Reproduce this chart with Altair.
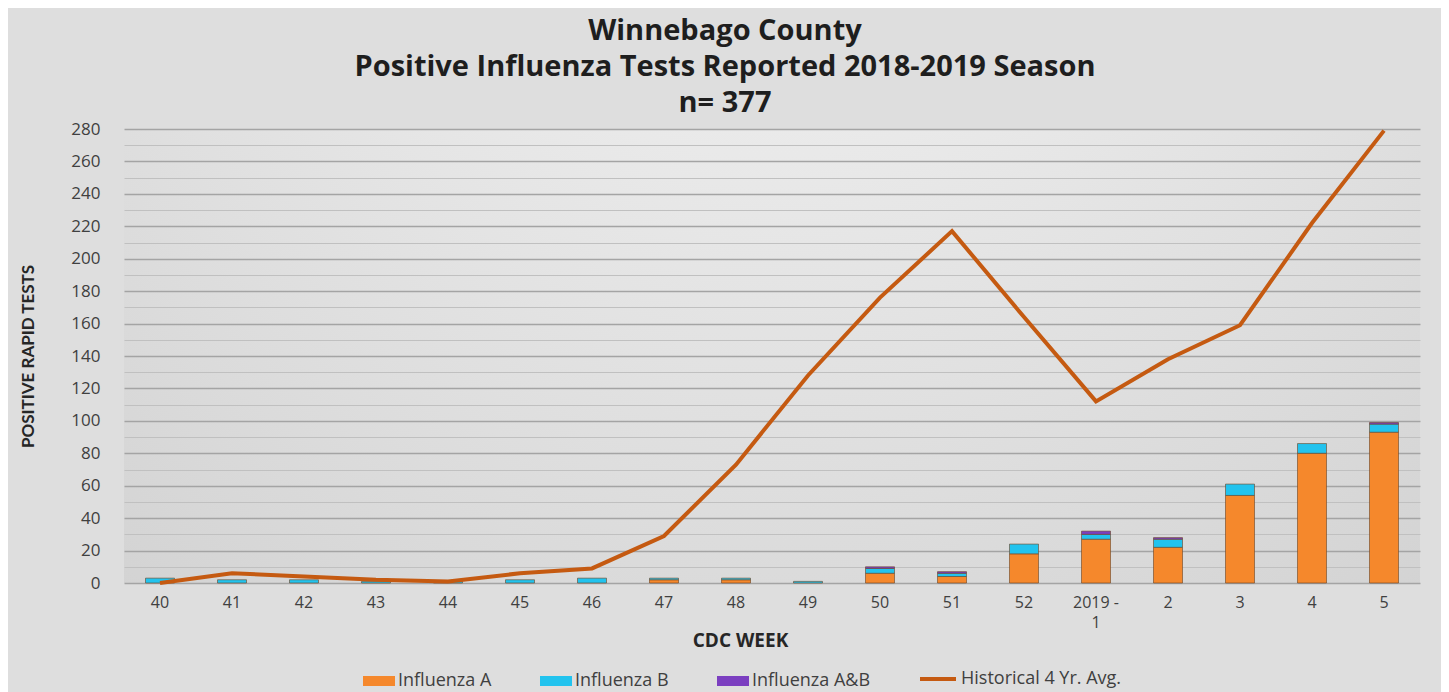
import altair as alt
import pandas as pd

weeks = ["40", "41", "42", "43", "44", "45", "46", "47", "48", "49",
         "50", "51", "52", "2019 - 1", "2", "3", "4", "5"]
flu_a = [0, 0, 0, 0, 0, 0, 0, 2, 2, 0, 6, 4, 18, 27, 22, 54, 80, 93]
flu_b = [3, 2, 2, 1, 1, 2, 3, 1, 1, 1, 3, 2, 6, 3, 5, 7, 6, 5]
flu_ab = [0, 0, 0, 0, 0, 0, 0, 0, 0, 0, 1, 1, 0, 2, 1, 0, 0, 1]
hist_avg = [0, 6, 4, 2, 1, 6, 9, 29, 73, 128, 176, 217, 164, 112, 138, 159, 222, 279]
y_ticks = list(range(0, 281, 10))

types = ["Influenza A", "Influenza B", "Influenza A&B"]
type_colors = ["#f5882c", "#22c3ee", "#7b3fc0"]
line_name = "Historical 4 Yr. Avg."
line_color = "#c55a11"

rows = []
for i, w in enumerate(weeks):
    for o, (t, vals) in enumerate(zip(types, [flu_a, flu_b, flu_ab])):
        rows.append({"week": w, "type": t, "count": vals[i], "ord": o})
bars_df = pd.DataFrame(rows)
line_df = pd.DataFrame({"week": weeks, "avg": hist_avg, "series": [line_name] * len(weeks)})

FONT = "Open Sans"
TXT = "#404040"

x_enc = alt.X(
    "week:N", sort=weeks,
    scale=alt.Scale(paddingInner=0, paddingOuter=0),
    axis=alt.Axis(
        title="CDC WEEK", labelAngle=0, labelFont=FONT, labelFontSize=16, labelColor=TXT,
        labelPadding=11, ticks=False, domain=False, grid=False,
        labelExpr="datum.value == '2019 - 1' ? ['2019 -', '1'] : datum.label",
        labelLineHeight=20,
        titleFont=FONT, titleFontSize=19, titleFontWeight="bold", titleColor="#262626",
        titleX=616, titleY=57, titleAlign="center", titleBaseline="middle",
    ),
)

y_axis = alt.Axis(
    title="POSITIVE RAPID TESTS", values=y_ticks, labelOverlap=False,
    labelExpr="datum.value % 20 == 0 ? datum.label : ''",
    labelFont=FONT, labelFontSize=17, labelColor=TXT, labelPadding=24,
    ticks=False, domain=False,
    gridColor={"condition": {"test": "datum.value % 20 == 0", "value": "#a4a4a4"}, "value": "#c0c0c0"},
    gridWidth={"condition": {"test": "datum.value % 20 == 0", "value": 1.6}, "value": 1},
    titleFont="Lato", titleFontSize=17, titleFontWeight="bold", titleColor="#262626",
    titleX=-96, titleY=227, titleAngle=270, titleAlign="center", titleBaseline="middle",
)
y_scale = alt.Scale(domain=[0, 280], nice=False)

bars = alt.Chart(bars_df).transform_filter("datum.count > 0").mark_bar(
    size=29, stroke="#6a4424", strokeWidth=1, strokeOpacity=0.6
).encode(
    x=x_enc,
    y=alt.Y("count:Q", stack="zero", scale=y_scale, axis=y_axis),
    fill=alt.Fill("type:N", scale=alt.Scale(domain=types, range=type_colors), legend=alt.Legend(
        title=None, orient="none", legendX=239, legendY=536, direction="horizontal",
        symbolType="M-1,-0.3125H1V0.3125H-1Z", symbolSize=1024, symbolStrokeWidth=0,
        labelFont=FONT, labelFontSize=18, labelColor=TXT, columnPadding=48, labelOffset=3,
        labelLimit=300, symbolOpacity=1)),
    order=alt.Order("ord:Q", sort="ascending"),
)

line = alt.Chart(line_df).mark_line(strokeWidth=4).encode(
    x=x_enc,
    y=alt.Y("avg:Q", scale=y_scale, axis=y_axis),
    stroke=alt.Stroke("series:N", scale=alt.Scale(domain=[line_name], range=[line_color]), legend=alt.Legend(
        title=None, orient="none", legendX=794, legendY=530, direction="horizontal",
        symbolType="M-1,0H1", symbolSize=1296, symbolStrokeWidth=4,
        labelFont=FONT, labelFontSize=18, labelColor=TXT, labelOffset=3, labelLimit=300)),
)

chart = alt.layer(bars, line).properties(
    width=1296, height=454,
    autosize=alt.AutoSizeParams(type="none"),
    padding={"left": 116, "top": 121, "right": 21, "bottom": 109},
    background="#dedede",
    title=alt.Title(
        text=["Winnebago County", "Positive Influenza Tests Reported 2018-2019 Season", "n= 377"],
        font=FONT, fontSize=29, fontWeight="bold", color="#1e1e1e", lineHeight=36,
        anchor="middle", frame="group", dx=-47, offset=2,
    ),
).resolve_scale(fill="independent", stroke="independent").configure_view(
    strokeWidth=0,
    fill={"expr": "{gradient: 'radial', x1: 0.5, y1: 0, r1: 0, x2: 0.5, y2: 0, r2: 1.15, stops: [{offset: 0, color: '#f8f8f8'}, {offset: 1, color: '#c6c6c6'}]}"},
)

chart.save("out.html", embed_options={"renderer": "svg", "actions": False})
